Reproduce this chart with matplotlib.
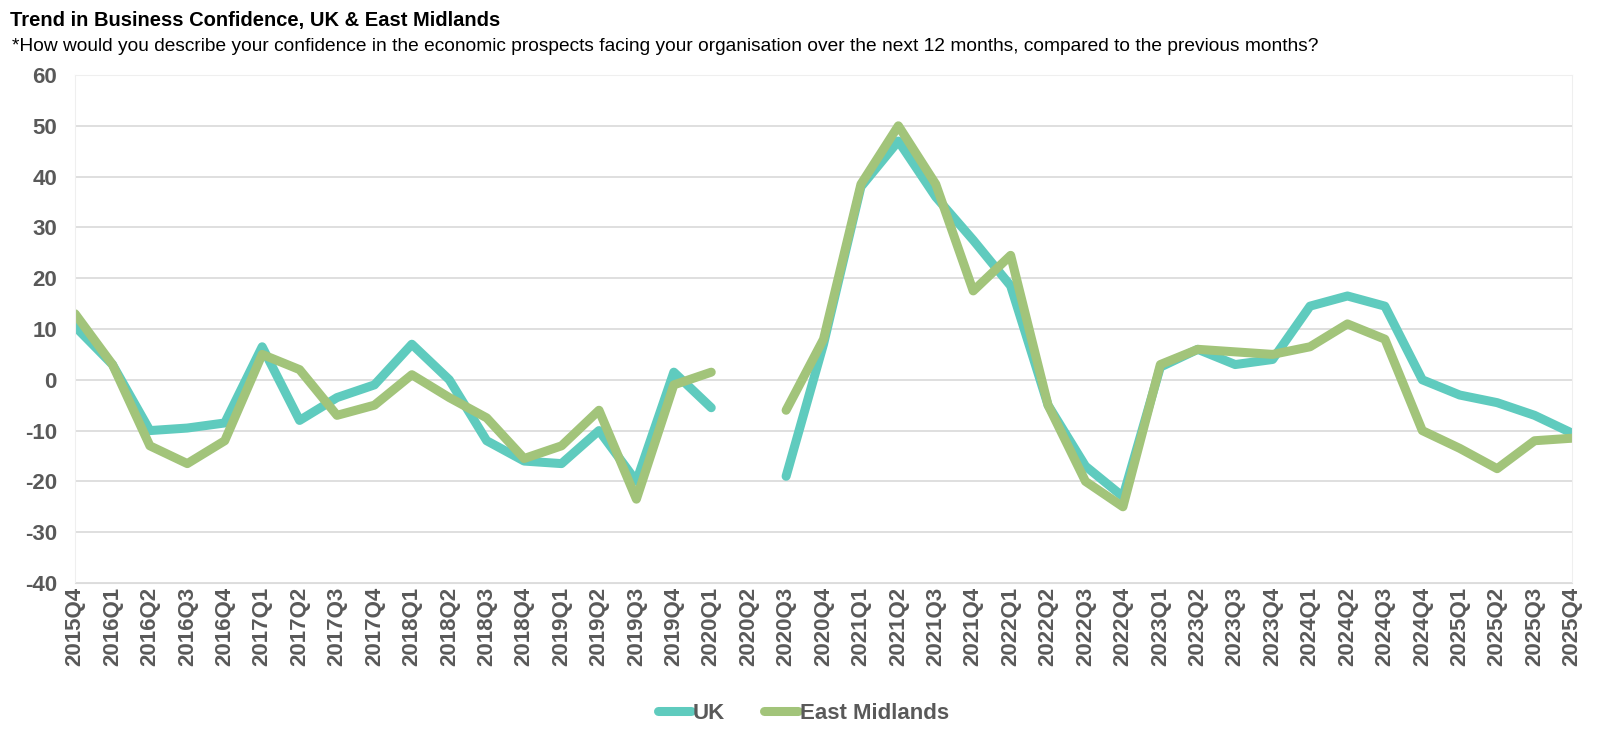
import numpy as np
import matplotlib.pyplot as plt

quarters = ['2015Q4',
            '2016Q1', '2016Q2', '2016Q3', '2016Q4',
            '2017Q1', '2017Q2', '2017Q3', '2017Q4',
            '2018Q1', '2018Q2', '2018Q3', '2018Q4',
            '2019Q1', '2019Q2', '2019Q3', '2019Q4',
            '2020Q1', '2020Q2', '2020Q3', '2020Q4',
            '2021Q1', '2021Q2', '2021Q3', '2021Q4',
            '2022Q1', '2022Q2', '2022Q3', '2022Q4',
            '2023Q1', '2023Q2', '2023Q3', '2023Q4',
            '2024Q1', '2024Q2', '2024Q3', '2024Q4',
            '2025Q1', '2025Q2', '2025Q3', '2025Q4']

# no survey in 2020Q2 -> None leaves a gap
uk = [10.5, 3, -10, -9.5, -8.5, 6.5, -8, -3.5, -1, 7, 0, -12, -16, -16.5, -10, -20, 1.5, -5.5,
      None, -19, 7, 38, 47, 36, 27.5, 18.5, -5, -17, -23, 2.5, 6, 3, 4, 14.5, 16.5, 14.5,
      0, -3, -4.5, -7, -10.5]
east_midlands = [13, 3, -13, -16.5, -12, 5, 2, -7, -5, 1, -3.5, -7.5, -15.5, -13, -6, -23.5, -1, 1.5,
                 None, -6, 8, 38.5, 50, 38.5, 17.5, 24.5, -5, -20, -25, 3, 6, 5.5, 5, 6.5, 11, 8,
                 -10, -13.5, -17.5, -12, -11.5]

plt.rcParams['font.family'] = ['Liberation Sans', 'DejaVu Sans']
plt.rcParams['axes.unicode_minus'] = False

fig = plt.figure(figsize=(16, 7.37), dpi=100)
ax = fig.add_axes([0.0469, 0.209, 0.9356, 0.6892])

x = np.arange(len(quarters))
uk_arr = np.array([np.nan if v is None else v for v in uk], dtype=float)
em_arr = np.array([np.nan if v is None else v for v in east_midlands], dtype=float)

ax.plot(x, uk_arr, color='#5FCBBE', lw=6.5, solid_joinstyle='round', solid_capstyle='round', label='UK')
ax.plot(x, em_arr, color='#A2C47A', lw=6.5, solid_joinstyle='round', solid_capstyle='round', label='East Midlands')

ax.set_xlim(0, len(quarters) - 1)
ax.set_ylim(-40, 60)
ax.set_yticks(range(-40, 61, 10))
ax.set_xticks(x)
ax.set_xticklabels(quarters, rotation=90, fontsize=16, fontweight='bold', color='#595959')
for t in ax.get_yticklabels():
    t.set_fontsize(16)
    t.set_fontweight('bold')
    t.set_color('#595959')
ax.tick_params(axis='y', length=0, pad=13)
ax.tick_params(axis='x', length=0, pad=3)
ax.grid(axis='y', color='#dcdcdc', lw=1.3)
ax.set_axisbelow(True)
for s in ['top', 'right', 'bottom', 'left']:
    ax.spines[s].set_color('#efefef')
ax.spines['bottom'].set_color('#dcdcdc')

fig.text(0.006, 0.972, 'Trend in Business Confidence, UK & East Midlands', fontsize=14.5,
         fontweight='bold', va='center', ha='left')
fig.text(0.0075, 0.937, '*How would you describe your confidence in the economic prospects facing your '
         'organisation over the next 12 months, compared to the previous months?',
         fontsize=13.8, va='center', ha='left')

leg = fig.legend(loc='center', bbox_to_anchor=(0.502, 0.032), ncol=2, frameon=False,
                 handlelength=1.5, handletextpad=0.1, columnspacing=1.75,
                 prop={'size': 16, 'weight': 'bold'})
for t in leg.get_texts():
    t.set_color('#595959')

fig.savefig('out.png', dpi=100)
